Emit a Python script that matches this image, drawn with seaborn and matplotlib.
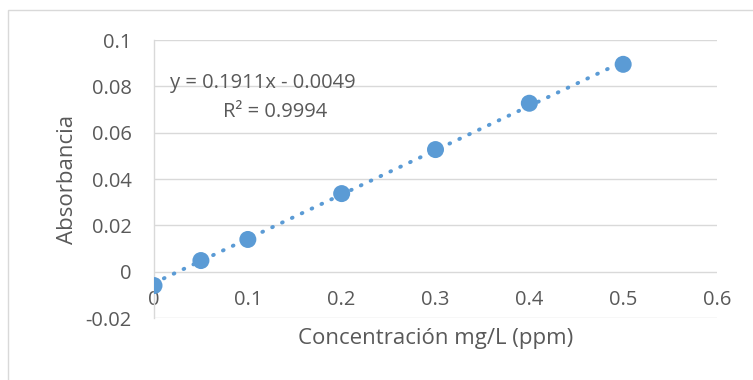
import numpy as np
import matplotlib
matplotlib.use("Agg")
import matplotlib.pyplot as plt
from matplotlib.patches import Rectangle
import seaborn as sns

# calibration data
conc = [0.0, 0.05, 0.1, 0.2, 0.3, 0.4, 0.5]
absorb = [-0.0060, 0.0048, 0.0139, 0.0337, 0.0527, 0.0727, 0.0895]
slope = 0.1911
intercept = -0.0049
r2 = 0.9994

x_ticks = [0, 0.1, 0.2, 0.3, 0.4, 0.5, 0.6]
y_ticks = [-0.02, 0, 0.02, 0.04, 0.06, 0.08, 0.1]

sns.set_theme(style="white")
plt.rcParams["font.family"] = ["Open Sans", "DejaVu Sans"]

blue = "#5B9BD5"
txt = "#595959"
grid = "#D9D9D9"

fig = plt.figure(figsize=(7.53, 3.8), dpi=100)
fig.patches.append(Rectangle((8 / 753, -0.1), 1.2, 1 - 10 / 380 + 0.1,
                             transform=fig.transFigure, fill=False,
                             edgecolor=grid, linewidth=1))
ax = fig.add_axes([154 / 753, 1 - 318 / 380, (717 - 154) / 753, (318 - 40) / 380])

xfit = np.array([conc[0], conc[-1]])
sns.lineplot(x=xfit, y=slope * xfit + intercept, ax=ax, color=blue,
             linewidth=2.8, linestyle=(0, (0.2, 2.6)),
             dash_capstyle="round", zorder=2)
sns.scatterplot(x=conc, y=absorb, ax=ax, color=blue, s=150,
                edgecolor="none", zorder=3)

ax.set_xlim(0, 0.6)
ax.set_ylim(-0.02, 0.1)
ax.set_xticks(x_ticks)
ax.set_xticklabels([f"{v:g}" for v in x_ticks])
ax.set_yticks(y_ticks)
ax.set_yticklabels([f"{v:g}" for v in y_ticks])
ax.grid(axis="y", color=grid, linewidth=1)
ax.set_axisbelow(True)

for s in ["top", "right"]:
    ax.spines[s].set_visible(False)
ax.spines["bottom"].set_position(("data", 0))
ax.spines["bottom"].set_visible(False)
ax.spines["left"].set_color(grid)
ax.spines["left"].set_linewidth(1)

ax.tick_params(axis="x", length=0, pad=13, labelsize=14.5, labelcolor=txt)
ax.tick_params(axis="y", length=0, pad=16, labelsize=14.5, labelcolor=txt)

ax.set_xlabel("Concentración mg/L (ppm)", fontsize=16, color=txt)
ax.xaxis.set_label_coords(0.5, -0.035)
ax.set_ylabel("Absorbancia", fontsize=16, color=txt)
ax.yaxis.set_label_coords(-0.135, 0.5)

ax.text(0.116, 0.0814, f"y = {slope}x - {abs(intercept)}", fontsize=14.5,
        color=txt, ha="center", va="center")
ax.text(0.129, 0.0688, f"R² = {r2}", fontsize=14.5, color=txt,
        ha="center", va="center")

fig.savefig("out.png", dpi=100)
